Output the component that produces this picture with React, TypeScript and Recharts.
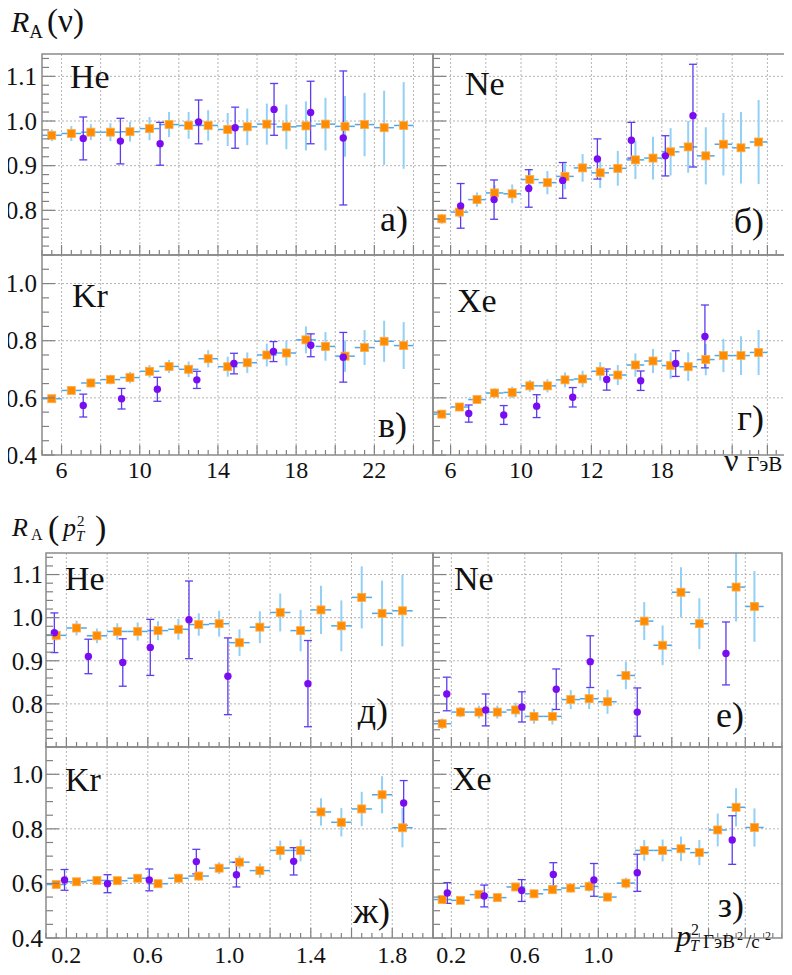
import React, { useEffect, useState } from 'react';
import { ScatterChart, Scatter, XAxis, YAxis, CartesianGrid, ErrorBar } from 'recharts';

const FONT = "'Liberation Serif', 'Times New Roman', Tinos, 'Nimbus Roman', FreeSerif, 'DejaVu Serif', serif";

// ---------- x bins ----------
const NU_BINS = [5.5, 6.5, 7.5, 8.5, 9.5, 10.5, 11.5, 12.5, 13.5, 14.5, 15.5, 16.5, 17.5, 18.5, 19.5, 20.5, 21.5, 22.5, 23.5];
const PT_BINS = [0.15, 0.25, 0.35, 0.45, 0.55, 0.65, 0.75, 0.85, 0.95, 1.05, 1.15, 1.25, 1.35, 1.45, 1.55, 1.65, 1.75, 1.85];
const NU_HALF_BIN = 0.5;
const PT_HALF_BIN = 0.05;

// ---------- R_A(nu) ----------
const HE_NU_Y = [0.968, 0.972, 0.975, 0.975, 0.976, 0.983, 0.992, 0.99, 0.99, 0.981, 0.987, 0.993, 0.987, 0.989, 0.993, 0.988, 0.992, 0.985, 0.99];
const HE_NU_ERR = [0.013, 0.017, 0.018, 0.02, 0.022, 0.026, 0.028, 0.03, 0.034, 0.037, 0.041, 0.046, 0.05, 0.055, 0.059, 0.068, 0.071, 0.083, 0.097];
const HE_NU_P_X = [7.11, 9.01, 11.04, 13.01, 14.88, 16.87, 18.74, 20.41];
const HE_NU_P_Y = [0.961, 0.955, 0.949, 0.998, 0.985, 1.026, 1.019, 0.962];
const HE_NU_P_ERR = [0.048, 0.051, 0.048, 0.049, 0.046, 0.058, 0.07, 0.15];

const NE_NU_Y = [0.781, 0.796, 0.824, 0.839, 0.837, 0.869, 0.862, 0.876, 0.895, 0.884, 0.894, 0.913, 0.917, 0.931, 0.942, 0.922, 0.948, 0.94, 0.953];
const NE_NU_ERR = [0.011, 0.013, 0.016, 0.017, 0.021, 0.022, 0.026, 0.029, 0.031, 0.034, 0.039, 0.043, 0.048, 0.053, 0.058, 0.064, 0.07, 0.08, 0.094];
const NE_NU_P_X = [6.57, 8.47, 10.44, 12.37, 14.34, 16.27, 18.2, 19.77];
const NE_NU_P_Y = [0.81, 0.824, 0.849, 0.867, 0.915, 0.957, 0.922, 1.012];
const NE_NU_P_ERR = [0.05, 0.044, 0.042, 0.04, 0.045, 0.04, 0.045, 0.115];

const KR_NU_Y = [0.597, 0.626, 0.652, 0.664, 0.671, 0.693, 0.71, 0.7, 0.737, 0.709, 0.723, 0.75, 0.757, 0.803, 0.78, 0.746, 0.776, 0.798, 0.783];
const KR_NU_ERR = [0.008, 0.012, 0.015, 0.017, 0.02, 0.022, 0.023, 0.027, 0.03, 0.035, 0.036, 0.04, 0.044, 0.047, 0.05, 0.055, 0.061, 0.072, 0.082];
const KR_NU_P_X = [7.11, 9.07, 10.9, 12.92, 14.82, 16.84, 18.75, 20.41];
const KR_NU_P_Y = [0.573, 0.597, 0.63, 0.663, 0.72, 0.762, 0.784, 0.742];
const KR_NU_P_ERR = [0.04, 0.036, 0.042, 0.03, 0.036, 0.035, 0.04, 0.087];

const XE_NU_Y = [0.543, 0.568, 0.594, 0.617, 0.619, 0.642, 0.642, 0.663, 0.666, 0.693, 0.68, 0.715, 0.729, 0.713, 0.709, 0.734, 0.748, 0.748, 0.759];
const XE_NU_ERR = [0.008, 0.01, 0.012, 0.017, 0.02, 0.021, 0.023, 0.026, 0.029, 0.032, 0.035, 0.041, 0.042, 0.046, 0.05, 0.055, 0.058, 0.068, 0.079];
const XE_NU_P_X = [7.03, 9.02, 10.89, 12.94, 14.87, 16.8, 18.79, 20.45];
const XE_NU_P_Y = [0.545, 0.54, 0.571, 0.602, 0.664, 0.66, 0.72, 0.815];
const XE_NU_P_ERR = [0.03, 0.033, 0.04, 0.034, 0.037, 0.034, 0.045, 0.11];

// ---------- R_A(pT^2) ----------
const HE_PT_Y = [0.959, 0.976, 0.958, 0.968, 0.968, 0.97, 0.973, 0.984, 0.986, 0.942, 0.978, 1.012, 0.97, 1.018, 0.981, 1.047, 1.01, 1.016];
const HE_PT_ERR = [0.012, 0.017, 0.017, 0.019, 0.021, 0.022, 0.024, 0.026, 0.03, 0.031, 0.037, 0.044, 0.048, 0.056, 0.059, 0.072, 0.076, 0.083];
const HE_PT_P_X = [0.141, 0.308, 0.477, 0.612, 0.802, 0.993, 1.386];
const HE_PT_P_Y = [0.965, 0.91, 0.896, 0.931, 0.995, 0.864, 0.847];
const HE_PT_P_ERR = [0.046, 0.04, 0.055, 0.065, 0.09, 0.089, 0.1];

const NE_PT_Y = [0.754, 0.781, 0.781, 0.781, 0.786, 0.771, 0.771, 0.81, 0.812, 0.805, 0.866, 0.992, 0.936, 1.059, 0.986, null, 1.071, 1.026];
const NE_PT_ERR = [0.012, 0.012, 0.015, 0.015, 0.017, 0.017, 0.019, 0.022, 0.024, 0.028, 0.032, 0.044, 0.046, 0.058, 0.059, null, 0.08, 0.082];
const NE_PT_P_X = [0.175, 0.387, 0.584, 0.771, 0.956, 1.212, 1.695];
const NE_PT_P_Y = [0.823, 0.786, 0.793, 0.834, 0.898, 0.781, 0.917];
const NE_PT_P_ERR = [0.039, 0.037, 0.035, 0.047, 0.06, 0.056, 0.073];

const KR_PT_Y = [0.596, 0.606, 0.611, 0.61, 0.619, 0.599, 0.619, 0.627, 0.656, 0.678, 0.647, 0.721, 0.721, 0.862, 0.824, 0.873, 0.925, 0.804];
const KR_PT_ERR = [0.008, 0.008, 0.008, 0.01, 0.012, 0.012, 0.014, 0.016, 0.022, 0.024, 0.026, 0.036, 0.04, 0.05, 0.052, 0.063, 0.068, 0.072];
const KR_PT_P_X = [0.191, 0.402, 0.607, 0.838, 1.035, 1.316, 1.856];
const KR_PT_P_Y = [0.613, 0.599, 0.613, 0.68, 0.632, 0.681, 0.895];
const KR_PT_P_ERR = [0.038, 0.033, 0.04, 0.045, 0.045, 0.05, 0.082];

const XE_PT_Y = [0.541, 0.538, 0.559, 0.548, 0.587, 0.562, 0.577, 0.583, 0.589, 0.55, 0.601, 0.721, 0.721, 0.727, 0.713, 0.796, 0.879, 0.805];
const XE_PT_ERR = [0.008, 0.008, 0.01, 0.01, 0.012, 0.012, 0.014, 0.016, 0.019, 0.016, 0.02, 0.038, 0.04, 0.045, 0.046, 0.06, 0.07, 0.07];
const XE_PT_P_X = [0.178, 0.379, 0.583, 0.755, 0.976, 1.212, 1.729];
const XE_PT_P_Y = [0.565, 0.554, 0.574, 0.633, 0.613, 0.639, 0.759];
const XE_PT_P_ERR = [0.038, 0.04, 0.04, 0.043, 0.06, 0.068, 0.089];

// ---------- tick labels ----------
const NU_LABEL_VALS_L = [6, 10, 14, 18, 22];
const NU_LABEL_TEXT_L = ['6', '10', '14', '18', '22'];
const NU_LABEL_VALS_R = [6, 10, 14, 18];
const NU_LABEL_TEXT_R = ['6', '10', '12', '18'];
const PT_LABEL_VALS_L = [0.2, 0.6, 1.0, 1.4, 1.8];
const PT_LABEL_TEXT_L = ['0.2', '0.6', '1.0', '1.4', '1.8'];
const PT_LABEL_VALS_R = [0.2, 0.6, 1.0];
const PT_LABEL_TEXT_R = ['0.2', '0.6', '1.0'];
const Y_HI_LABEL_VALS = [0.8, 0.9, 1.0, 1.1];
const Y_HI_LABEL_TEXT = ['0.8', '0.9', '1.0', '1.1'];
const Y_LO_LABEL_VALS = [0.4, 0.6, 0.8, 1.0];
const Y_LO_LABEL_TEXT = ['0.4', '0.6', '0.8', '1.0'];

// ---------- helpers ----------
type Pt = { x: number; y: number; ey: number; ex?: number };

function orangeRows(xs: number[], ys: (number | null)[], es: (number | null)[], half: number): Pt[] {
  const out: Pt[] = [];
  xs.forEach((x, i) => {
    const y = ys[i];
    const e = es[i];
    if (y != null && e != null) out.push({ x, y, ey: e, ex: half });
  });
  return out;
}
function purpleRows(xs: number[], ys: number[], es: number[]): Pt[] {
  return xs.map((x, i) => ({ x, y: ys[i], ey: es[i] }));
}
function range(a: number, b: number, step: number): number[] {
  const n = Math.round((b - a) / step);
  return Array.from({ length: n + 1 }, (_, i) => +(a + i * step).toFixed(4));
}
const near = (arr: number[], v: number) => arr.findIndex((m) => Math.abs(m - v) < 1e-6);

const LM = 50;
const BM = 40;

const Square = (props: any) => {
  const { cx, cy } = props;
  if (cx == null || cy == null) return <g />;
  return <rect x={cx - 4} y={cy - 4} width={8} height={8} fill="#ff8c00" stroke="#ffac4a" strokeWidth={0.8} />;
};
const Dot = (props: any) => {
  const { cx, cy } = props;
  if (cx == null || cy == null) return <g />;
  return <circle cx={cx} cy={cy} r={3.7} fill="#7a0cf2" />;
};

type PanelProps = {
  left: number; top: number; w: number; h: number;
  xDomain: [number, number]; yDomain: [number, number];
  xTicks: number[]; xMajor: number[]; xLabelVals: number[] | null; xLabelText: string[] | null; xLabelDy: number;
  yTicks: number[]; yMajor: number[]; yLabelVals: number[] | null; yLabelText: string[] | null; yLabelGap: number;
  xGrid: number[]; yGrid: number[];
  orange: Pt[]; purple: Pt[];
};

function Panel(p: PanelProps) {
  const YTick = (props: any) => {
    const { y, payload } = props;
    const v = payload.value;
    const maj = near(p.yMajor, v) >= 0;
    const li = p.yLabelVals ? near(p.yLabelVals, v) : -1;
    return (
      <g>
        <line x1={LM} x2={LM + (maj ? 13 : 7)} y1={y} y2={y} stroke="#808080" strokeWidth={1.2} />
        {li >= 0 && p.yLabelText && (
          <text x={LM - p.yLabelGap} y={y} dy="0.35em" textAnchor="end" style={{ fontFamily: FONT }} fontSize={25} fill="#111">
            {p.yLabelText[li]}
          </text>
        )}
      </g>
    );
  };
  const XTick = (props: any) => {
    const { x, payload } = props;
    const v = payload.value;
    const maj = near(p.xMajor, v) >= 0;
    const li = p.xLabelVals ? near(p.xLabelVals, v) : -1;
    return (
      <g>
        <line x1={x} x2={x} y1={p.h} y2={p.h - (maj ? 10 : 5)} stroke="#808080" strokeWidth={1.2} />
        {li >= 0 && p.xLabelText && (
          <text x={x} y={p.h + p.xLabelDy} textAnchor="middle" style={{ fontFamily: FONT }} fontSize={24} fill="#111">
            {p.xLabelText[li]}
          </text>
        )}
      </g>
    );
  };
  return (
    <div style={{ position: 'absolute', left: p.left - LM, top: p.top }}>
      <ScatterChart width={p.w + LM} height={p.h + BM} margin={{ top: 0, right: 0, bottom: 0, left: 0 }}>
        <CartesianGrid
          horizontalValues={p.yGrid}
          verticalValues={p.xGrid}
          stroke="#b4b4b4"
          strokeDasharray="2 2"
        />
        <XAxis
          type="number" dataKey="x" domain={p.xDomain} allowDataOverflow ticks={p.xTicks} interval={0}
          tick={XTick} tickLine={false} axisLine={false} height={BM}
        />
        <YAxis
          type="number" dataKey="y" domain={p.yDomain} allowDataOverflow ticks={p.yTicks} interval={0}
          tick={YTick} tickLine={false} axisLine={false} width={LM}
        />
        <Scatter data={p.orange} shape={Square} isAnimationActive={false}>
          <ErrorBar dataKey="ex" direction="x" width={0} stroke="#4fa9ea" strokeWidth={1.5} isAnimationActive={false} />
          <ErrorBar dataKey="ey" direction="y" width={0} stroke="#93d0f6" strokeWidth={2} isAnimationActive={false} />
        </Scatter>
        <Scatter data={p.purple} shape={Dot} isAnimationActive={false}>
          <ErrorBar dataKey="ey" direction="y" width={4} stroke="#5b3cf0" strokeWidth={1.3} isAnimationActive={false} />
        </Scatter>
      </ScatterChart>
    </div>
  );
}

// ---------- axis configs ----------
const NU_X = {
  xDomain: [5, 25] as [number, number],
  xTicks: range(5, 25, 0.5),
  xMajor: range(6, 24, 2),
  xGrid: range(6, 24, 2),
};
const PT_X = {
  xDomain: [0.1, 2.0] as [number, number],
  xTicks: range(0.1, 2.0, 0.05),
  xMajor: range(0.2, 1.8, 0.2),
  xGrid: range(0.2, 1.8, 0.2),
};
const Y_HI = {
  yDomain: [0.7, 1.15] as [number, number],
  yTicks: range(0.7, 1.14, 0.02),
  yMajor: [0.7, 0.8, 0.9, 1.0, 1.1],
  yGrid: [0.8, 0.9, 1.0, 1.1],
};
const Y_LO = {
  yDomain: [0.4, 1.1] as [number, number],
  yTicks: range(0.4, 1.1, 0.05),
  yMajor: [0.4, 0.6, 0.8, 1.0],
  yGrid: [0.6, 0.8, 1.0],
};

type PanelDef = PanelProps & { name: string; letter: string; nameX: number; nameY: number; letX: number; letY: number };

const PANELS: PanelDef[] = [
  {
    ...NU_X, ...Y_HI, left: 42, top: 54, w: 391, h: 201,
    xLabelVals: null, xLabelText: null, xLabelDy: 23, yLabelVals: Y_HI_LABEL_VALS, yLabelText: Y_HI_LABEL_TEXT, yLabelGap: 5,
    orange: orangeRows(NU_BINS, HE_NU_Y, HE_NU_ERR, NU_HALF_BIN), purple: purpleRows(HE_NU_P_X, HE_NU_P_Y, HE_NU_P_ERR),
    name: 'He', letter: 'а)', nameX: 70, nameY: 88, letX: 408, letY: 231,
  },
  {
    ...NU_X, ...Y_HI, left: 433, top: 54, w: 352, h: 201,
    xLabelVals: null, xLabelText: null, xLabelDy: 23, yLabelVals: null, yLabelText: null, yLabelGap: 5,
    orange: orangeRows(NU_BINS, NE_NU_Y, NE_NU_ERR, NU_HALF_BIN), purple: purpleRows(NE_NU_P_X, NE_NU_P_Y, NE_NU_P_ERR),
    name: 'Ne', letter: 'б)', nameX: 465, nameY: 95, letX: 764, letY: 233,
  },
  {
    ...NU_X, ...Y_LO, left: 42, top: 255, w: 391, h: 200,
    xLabelVals: NU_LABEL_VALS_L, xLabelText: NU_LABEL_TEXT_L, xLabelDy: 23, yLabelVals: Y_LO_LABEL_VALS, yLabelText: Y_LO_LABEL_TEXT, yLabelGap: 5,
    orange: orangeRows(NU_BINS, KR_NU_Y, KR_NU_ERR, NU_HALF_BIN), purple: purpleRows(KR_NU_P_X, KR_NU_P_Y, KR_NU_P_ERR),
    name: 'Kr', letter: 'в)', nameX: 72, nameY: 307, letX: 407, letY: 437,
  },
  {
    ...NU_X, ...Y_LO, left: 433, top: 255, w: 352, h: 200,
    xLabelVals: NU_LABEL_VALS_R, xLabelText: NU_LABEL_TEXT_R, xLabelDy: 23, yLabelVals: null, yLabelText: null, yLabelGap: 5,
    orange: orangeRows(NU_BINS, XE_NU_Y, XE_NU_ERR, NU_HALF_BIN), purple: purpleRows(XE_NU_P_X, XE_NU_P_Y, XE_NU_P_ERR),
    name: 'Xe', letter: 'г)', nameX: 457, nameY: 312, letX: 764, letY: 430,
  },
  {
    ...PT_X, ...Y_HI, left: 46, top: 553, w: 387, h: 194,
    xLabelVals: null, xLabelText: null, xLabelDy: 25, yLabelVals: Y_HI_LABEL_VALS, yLabelText: Y_HI_LABEL_TEXT, yLabelGap: 3,
    orange: orangeRows(PT_BINS, HE_PT_Y, HE_PT_ERR, PT_HALF_BIN), purple: purpleRows(HE_PT_P_X, HE_PT_P_Y, HE_PT_P_ERR),
    name: 'He', letter: 'д)', nameX: 65, nameY: 590, letX: 388, letY: 723,
  },
  {
    ...PT_X, ...Y_HI, left: 433, top: 553, w: 349, h: 194,
    xLabelVals: null, xLabelText: null, xLabelDy: 25, yLabelVals: null, yLabelText: null, yLabelGap: 3,
    orange: orangeRows(PT_BINS, NE_PT_Y, NE_PT_ERR, PT_HALF_BIN), purple: purpleRows(NE_PT_P_X, NE_PT_P_Y, NE_PT_P_ERR),
    name: 'Ne', letter: 'е)', nameX: 454, nameY: 590, letX: 744, letY: 727,
  },
  {
    ...PT_X, ...Y_LO, left: 46, top: 747, w: 387, h: 191,
    xLabelVals: PT_LABEL_VALS_L, xLabelText: PT_LABEL_TEXT_L, xLabelDy: 25, yLabelVals: Y_LO_LABEL_VALS, yLabelText: Y_LO_LABEL_TEXT, yLabelGap: 3,
    orange: orangeRows(PT_BINS, KR_PT_Y, KR_PT_ERR, PT_HALF_BIN), purple: purpleRows(KR_PT_P_X, KR_PT_P_Y, KR_PT_P_ERR),
    name: 'Kr', letter: 'ж)', nameX: 65, nameY: 791, letX: 390, letY: 923,
  },
  {
    ...PT_X, ...Y_LO, left: 433, top: 747, w: 349, h: 191,
    xLabelVals: PT_LABEL_VALS_R, xLabelText: PT_LABEL_TEXT_R, xLabelDy: 25, yLabelVals: null, yLabelText: null, yLabelGap: 3,
    orange: orangeRows(PT_BINS, XE_PT_Y, XE_PT_ERR, PT_HALF_BIN), purple: purpleRows(XE_PT_P_X, XE_PT_P_Y, XE_PT_P_ERR),
    name: 'Xe', letter: 'з)', nameX: 452, nameY: 790, letX: 744, letY: 917,
  },
];

// HTML text positioned by its baseline (line-height = font size; Liberation Serif baseline at ~0.8375em)
function HText(props: { x: number; base: number; size: number; right?: boolean; children: React.ReactNode }) {
  const { x, base, size, right, children } = props;
  const style: React.CSSProperties = {
    position: 'absolute',
    top: base - 0.8375 * size,
    fontFamily: FONT,
    fontSize: size,
    lineHeight: `${size}px`,
    color: '#111',
    whiteSpace: 'nowrap',
  };
  if (right) style.right = 792 - x;
  else style.left = x;
  return <div style={style}>{children}</div>;
}

export default function App() {
  const [, setReady] = useState(0);
  useEffect(() => {
    const fs: any = (document as any).fonts;
    if (fs && fs.load) {
      Promise.all([
        fs.load('24px "Liberation Serif"'),
        fs.load('italic 24px "Liberation Serif"'),
      ]).then(() => setReady((n) => n + 1)).catch(() => {});
    }
  }, []);
  return (
    <div style={{ position: 'relative', margin: -8, width: 792, height: 975, background: '#fff', overflow: 'hidden', fontFamily: FONT }}>
      {PANELS.map((p, i) => (
        <Panel key={i} {...p} />
      ))}
      <svg width={792} height={975} style={{ position: 'absolute', left: 0, top: 0, pointerEvents: 'none' }}>
        {PANELS.map((p, i) => (
          <rect key={i} x={p.left} y={p.top} width={p.w} height={p.h} fill="none" stroke="#8a8a8a" strokeWidth={1.5} />
        ))}
        {/* bottom title R_A(pT^2) */}
        <text style={{ fontFamily: FONT }} fill="#111">
          <tspan x={12} y={536} fontSize={26} fontStyle="italic">R</tspan>
          <tspan x={31} y={540} fontSize={16}>A</tspan>
          <tspan x={48} y={539} fontSize={34}>(</tspan>
          <tspan x={63} y={536} fontSize={26} fontStyle="italic">p</tspan>
          <tspan x={76} y={541} fontSize={15} fontStyle="italic">T</tspan>
          <tspan x={77} y={526} fontSize={15}>2</tspan>
          <tspan x={95} y={539} fontSize={34}>)</tspan>
        </text>
        {/* x-axis label top group */}
        <text style={{ fontFamily: FONT }} fill="#111">
          <tspan x={724} y={471} fontSize={32}>ν</tspan>
          <tspan x={747} y={471} fontSize={21}>ГэВ</tspan>
        </text>
        {/* x-axis label bottom group */}
        <text style={{ fontFamily: FONT }} fill="#111">
          <tspan x={676} y={946} fontSize={30} fontStyle="italic">p</tspan>
          <tspan x={690} y={951} fontSize={16} fontStyle="italic">T</tspan>
          <tspan x={691} y={935} fontSize={16}>2</tspan>
          <tspan x={703} y={948} fontSize={19}>ГэВ</tspan>
          <tspan x={737} y={940} fontSize={12}>2</tspan>
          <tspan x={746} y={948} fontSize={19}>/c</tspan>
          <tspan x={765} y={940} fontSize={12}>2</tspan>
        </text>
      </svg>
      {PANELS.map((p, i) => (
        <React.Fragment key={i}>
          <HText x={p.nameX} base={p.nameY} size={34}>{p.name}</HText>
          <HText x={p.letX} base={p.letY} size={36} right>{p.letter}</HText>
        </React.Fragment>
      ))}
      {/* top title R_A(nu) */}
      <HText x={11} base={33} size={33}>
        <span style={{ fontStyle: 'italic', fontSize: 30, lineHeight: 0 }}>R</span>
        <span style={{ fontSize: 19, lineHeight: 0, verticalAlign: -6 }}>A</span>
        <span style={{ fontSize: 33, lineHeight: 0, marginLeft: 4 }}>(ν)</span>
      </HText>
    </div>
  );
}
